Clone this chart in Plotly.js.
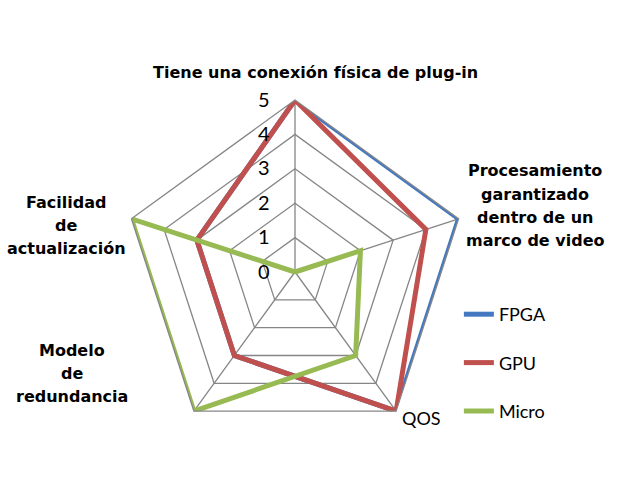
<!DOCTYPE html>
<html>
<head>
<meta charset="utf-8">
<script src="https://cdn.plot.ly/plotly-3.0.1.min.js"></script>
<style>html,body{margin:0;padding:0;background:#fff;}#chart{width:640px;height:480px;}</style>
</head>
<body>
<div id="chart"></div>
<script>
const categories = [
  "Tiene una conexión física de plug-in",
  "Procesamiento garantizado dentro de un marco de video",
  "QOS",
  "Modelo de redundancia",
  "Facilidad de actualización"
];
const fpga = [5, 5, 5, 3, 3];
const gpu = [5, 4, 5, 3, 3];
const micro = [0, 2, 3, 5, 5];
const seriesNames = ["FPGA", "GPU", "Micro"];
const colors = ["#4479C2", "#C0504D", "#97BA52"];
const radialTicks = [0, 1, 2, 3, 4, 5];

const seriesValues = [fpga, gpu, micro];
const traces = seriesValues.map((vals, i) => ({
  type: "scatterpolar",
  mode: "lines",
  name: seriesNames[i],
  legendgroup: "g" + i,
  r: vals.concat([vals[0]]),
  theta: categories.concat([categories[0]]),
  line: {color: colors[i], width: 5},
  hoverinfo: "skip"
}));

const boldFont = {family: "DejaVu Sans", size: 16, color: "#000", weight: "bold"};
// category label blocks: lines, centre x, first-line y (pixels), line step
const labelBlocks = [
  {lines: ["Tiene una conexión física de plug-in"], x: 315, y: 72},
  {lines: ["Procesamiento", "garantizado", "dentro de un", "marco de video"], x: 535, y: 171},
  {lines: ["Facilidad", "de", "actualización"], x: 66, y: 202},
  {lines: ["Modelo", "de", "redundancia"], x: 72, y: 350}
];
const annotations = [];
labelBlocks.forEach(b => b.lines.forEach((t, k) => annotations.push({
  text: t, x: b.x / 640, y: 1 - (b.y + 23 * k) / 480, font: boldFont
})));
annotations.push({text: "QOS", x: 421 / 640, y: 1 - 418 / 480, font: {family: "Lato", size: 18, color: "#000"}});

const layout = {
  width: 640, height: 480,
  margin: {l: 0, r: 0, t: 0, b: 0},
  paper_bgcolor: "#fff",
  showlegend: true,
  legend: {
    x: 0.717, xanchor: "left", y: 1 - 296/480, yanchor: "top",
    font: {family: "Lato", size: 18, color: "#000"},
    traceorder: "grouped", tracegroupgap: 22,
    bgcolor: "rgba(0,0,0,0)"
  },
  polar: {
    domain: {x: [(295 - 172) / 640, (295 + 172) / 640], y: [(208 - 172) / 480, (208 + 172) / 480]},
    bgcolor: "#fff",
    gridshape: "linear",
    angularaxis: {
      rotation: 90, direction: "clockwise",
      showticklabels: false, ticks: "",
      showline: true, linecolor: "#868686", linewidth: 1.3,
      showgrid: true, gridcolor: "#868686", gridwidth: 1.3
    },
    radialaxis: {
      range: [0, 5], tickvals: radialTicks, ticktext: radialTicks.map(String),
      angle: 90, tickangle: 90, side: "counterclockwise",
      showline: false, ticks: "outside", ticklen: 18, tickcolor: "rgba(0,0,0,0)",
      showgrid: true, gridcolor: "#868686", gridwidth: 1.3,
      tickfont: {family: "Lato", size: 20, color: "#000"}
    }
  },
  annotations: annotations.map(a => Object.assign({xref: "paper", yref: "paper", showarrow: false, xanchor: "center", yanchor: "middle", align: "center"}, a))
};

Plotly.newPlot("chart", traces, layout, {staticPlot: true, displayModeBar: false});
</script>
</body>
</html>
